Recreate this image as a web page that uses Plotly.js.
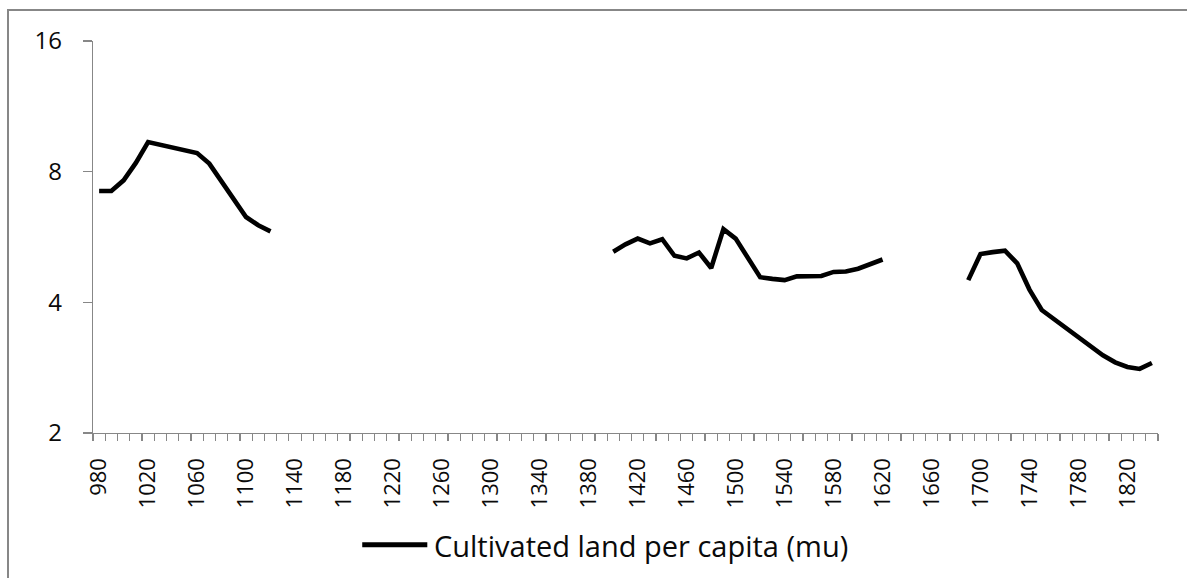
<!DOCTYPE html>
<html>
<head>
<meta charset="utf-8">
<script src="https://cdn.plot.ly/plotly-3.0.1.min.js"></script>
<style>
  html, body { margin: 0; padding: 0; background: #fff; overflow: hidden; }
  #frame { position: absolute; left: 7px; top: 9px; width: 1400px; height: 800px;
           border-left: 2px solid #878787; border-top: 2px solid #878787; pointer-events: none; }
  #chart { position: absolute; left: 0; top: 0; width: 1187px; height: 578px; }
</style>
</head>
<body>
<div id="chart"></div>
<div id="frame"></div>
<script>
// Northern Song period
const years1 = [980, 990, 1000, 1010, 1020, 1030, 1040, 1050, 1060, 1070, 1080, 1090, 1100, 1110, 1120];
const land1  = [7.22, 7.22, 7.64, 8.38, 9.36, 9.23, 9.09, 8.96, 8.83, 8.35, 7.61, 6.91, 6.29, 6.02, 5.83];

// Ming period
const years2 = [1400, 1410, 1420, 1430, 1440, 1450, 1460, 1470, 1480, 1490, 1500, 1510, 1520, 1530, 1540, 1550, 1560, 1570, 1580, 1590, 1600, 1610, 1620];
const land2  = [5.23, 5.44, 5.61, 5.47, 5.59, 5.12, 5.05, 5.21, 4.80, 5.90, 5.61, 5.09, 4.57, 4.53, 4.50, 4.59, 4.60, 4.60, 4.70, 4.71, 4.78, 4.90, 5.02];

// Qing period
const years3 = [1690, 1700, 1710, 1720, 1730, 1740, 1750, 1760, 1770, 1780, 1790, 1800, 1810, 1820, 1830, 1840];
const land3  = [4.50, 5.17, 5.22, 5.26, 4.92, 4.28, 3.84, 3.66, 3.50, 3.33, 3.17, 3.02, 2.91, 2.84, 2.81, 2.90];

const seriesName = 'Cultivated land per capita (mu)';
const yTicks = [2, 4, 8, 16];
const xLabelStart = 980, xLabelStep = 40;

const xs = [...years1, null, ...years2, null, ...years3];
const ys = [...land1, null, ...land2, null, ...land3];

const FONT = 'Open Sans, Noto Sans, sans-serif';
const AXIS = '#878787';
const TEXT = '#0a0a0a';

const trace = {
  type: 'scatter', mode: 'lines', x: xs, y: ys, name: seriesName,
  connectgaps: false, showlegend: false,
  line: { color: '#000000', width: 4.6 }
};

const layout = {
  width: 1187, height: 578,
  margin: { l: 93, r: 29, t: 41, b: 145 },
  paper_bgcolor: 'rgba(0,0,0,0)', plot_bgcolor: '#ffffff',
  font: { family: FONT, color: TEXT },
  showlegend: false,
  xaxis: {
    type: 'linear', range: [975, 1845],
    tick0: xLabelStart, dtick: xLabelStep, ticks: '',
    tickangle: -90, tickfont: { family: FONT, size: 22, color: TEXT },
    ticklabelstandoff: 15,
    showline: true, linecolor: AXIS, linewidth: 1.3,
    showgrid: false, zeroline: false,
    minor: { tick0: 975, dtick: 10, ticks: 'outside', ticklen: 7, tickcolor: AXIS, tickwidth: 1.2, showgrid: false }
  },
  yaxis: {
    type: 'log', range: [Math.log10(2), Math.log10(16)],
    tickvals: yTicks, ticktext: yTicks.map(String),
    ticks: 'outside', ticklen: 9, tickcolor: AXIS, tickwidth: 1.2,
    tickfont: { family: FONT, size: 24, color: TEXT },
    ticklabelstandoff: 16,
    showline: true, linecolor: AXIS, linewidth: 1.3,
    showgrid: false, zeroline: false
  },
  shapes: [{
    type: 'line', xref: 'paper', yref: 'paper',
    x0: 0.2528, x1: 0.3139, y0: -0.285, y1: -0.285,
    line: { color: '#000000', width: 5 }
  }],
  annotations: [{
    xref: 'paper', yref: 'paper', x: 0.3185, y: -0.287,
    xanchor: 'left', yanchor: 'middle', showarrow: false,
    text: seriesName,
    font: { family: FONT, size: 29, color: TEXT }
  }]
};

Plotly.newPlot('chart', [trace], layout, { displayModeBar: false, staticPlot: true });
</script>
</body>
</html>
